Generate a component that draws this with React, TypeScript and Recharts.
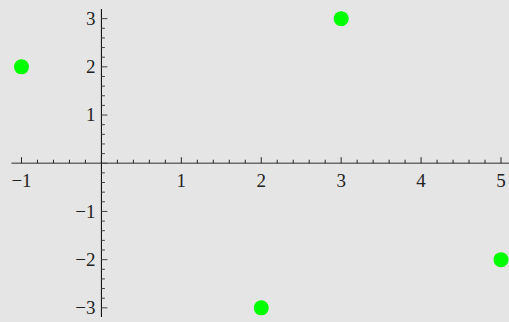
import React from 'react';
import { ScatterChart, Scatter, XAxis, YAxis, ReferenceLine } from 'recharts';

/* ─────── data ─────── */
const xs = [-1, 2, 3, 5];
const ys = [2, -3, 3, -2];
const xMajor = [-1, 0, 1, 2, 3, 4, 5];
const yMajor = [-3, -2, -1, 0, 1, 2, 3];

const points = xs.map((x, i) => ({ x, y: ys[i] }));

/* ─────── geometry ─────── */
const W = 509;
const H = 322;
const M = { top: 9, right: 0, bottom: 4, left: 10.5 };
const AX = 1; // axis band size (width of YAxis / height of XAxis)
const XDOM: [number, number] = [-1.125, 5.1];
const YDOM: [number, number] = [-3.19, 3.2];
const plotL = M.left + AX;
const plotW = W - plotL - M.right;
const plotH = H - M.top - M.bottom - AX;
const x0 = plotL + (plotW * (0 - XDOM[0])) / (XDOM[1] - XDOM[0]);
const y0 = M.top + (plotH * (YDOM[1] - 0)) / (YDOM[1] - YDOM[0]);

// major ticks plus 4 minor ticks between each pair
const withMinor = (major: number[]) => {
  const out: number[] = [];
  for (let i = 0; i < major.length; i++) {
    out.push(major[i]);
    if (i < major.length - 1) {
      const step = (major[i + 1] - major[i]) / 5;
      for (let k = 1; k < 5; k++) out.push(major[i] + step * k);
    }
  }
  return out;
};

const isInt = (v: number) => Math.abs(v - Math.round(v)) < 1e-6;
const fmt = (v: number) => (v < 0 ? '\u2212' + Math.abs(Math.round(v)) : String(Math.round(v)));
const labelStyle = { fontFamily: '"Times New Roman", "Liberation Serif", Times, serif', fontSize: 19, fill: '#222' };

const XTick = (props: any) => {
  const { x, payload } = props;
  const v = payload.value;
  const major = isInt(v);
  return (
    <g>
      <line x1={x} x2={x} y1={y0} y2={y0 - (major ? 6 : 3.5)} stroke="#222" strokeWidth={1} />
      {major && Math.round(v) !== 0 && (
        <text x={x} y={y0 + 24} textAnchor="middle" style={labelStyle}>
          {fmt(v)}
        </text>
      )}
    </g>
  );
};

const YTick = (props: any) => {
  const { y, payload } = props;
  const v = payload.value;
  const major = isInt(v);
  return (
    <g>
      <line x1={x0} x2={x0 + (major ? 6 : 3.5)} y1={y} y2={y} stroke="#444" strokeWidth={1} />
      {major && Math.round(v) !== 0 && (
        <text x={x0 - 6} y={y} dy="0.33em" textAnchor="end" style={labelStyle}>
          {fmt(v)}
        </text>
      )}
    </g>
  );
};

const Dot = (props: any) => <circle cx={props.cx} cy={props.cy} r={7.5} fill="#00ff00" />;

export default function App() {
  return (
    <div style={{ width: W, height: H, background: '#e5e5e5' }}>
      <style>{'body{margin:0}'}</style>
      <ScatterChart width={W} height={H} margin={M}>
        <XAxis
          type="number" dataKey="x" domain={XDOM} ticks={withMinor(xMajor)}
          interval={0} axisLine={false} tickLine={false} height={AX} tick={<XTick />}
        />
        <YAxis
          type="number" dataKey="y" domain={YDOM} ticks={withMinor(yMajor)}
          interval={0} axisLine={false} tickLine={false} width={AX} tick={<YTick />}
        />
        <ReferenceLine y={0} stroke="#6b6b6b" strokeWidth={1.5} />
        <ReferenceLine x={0} stroke="#000" strokeWidth={1} />
        <Scatter data={points} shape={<Dot />} isAnimationActive={false} />
      </ScatterChart>
    </div>
  );
}
